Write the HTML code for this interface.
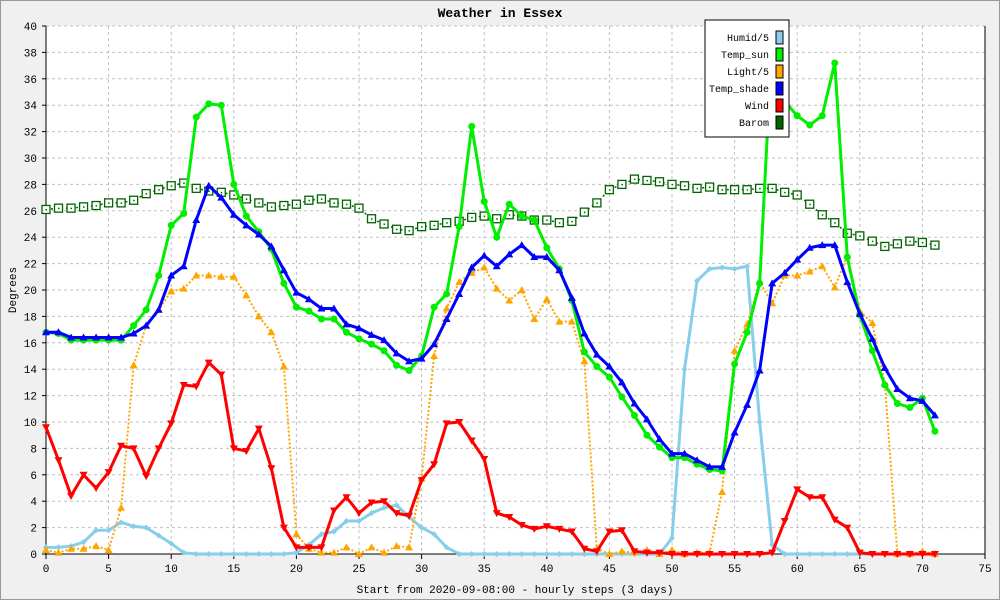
<!DOCTYPE html>
<html><head><meta charset="utf-8"><style>
body{margin:0;background:#fff}
svg{display:block;font-family:"Liberation Mono",monospace}
</style></head><body>
<svg id="chart" width="1000" height="600" xmlns="http://www.w3.org/2000/svg">
<rect x="0.5" y="0.5" width="999" height="599" fill="#f0f0f0" stroke="#999"/>
<rect x="46" y="26" width="939" height="528" fill="#fff"/>
<text x="500" y="17" text-anchor="middle" font-size="13" font-weight="bold">Weather in Essex</text>
<g id="grid"></g>
<g id="axes"></g>
<g id="series"></g>
<text x="16" y="290" transform="rotate(-90 16 290)" text-anchor="middle" font-size="11">Degrees</text>
<text x="515" y="593" text-anchor="middle" font-size="11">Start from 2020-09-08:00 - hourly steps (3 days)</text>
<g id="legend"></g>
</svg>
<script>
const hours = Array.from({length:72},(_,i)=>i);
const humid = [0.5,0.5,0.6,0.9,1.8,1.8,2.4,2.1,2.0,1.4,0.8,0.1,0,0,0,0,0,0,0,0,0.1,0.7,1.5,1.7,2.5,2.5,3.1,3.5,3.7,2.8,2.0,1.5,0.5,0,0,0,0,0,0,0,0,0,0,0,0,0,0,0,0,0,1.2,14,20.7,21.6,21.7,21.6,21.8,10,0.7,0,0,0,0,0,0,0,0,0,0,0,0,0];
const tempSun = [16.8,16.7,16.2,16.2,16.2,16.2,16.2,17.3,18.5,21.1,24.9,25.8,33.1,34.1,34,28,25.6,24.4,23.1,20.5,18.7,18.4,17.8,17.8,16.8,16.3,15.9,15.4,14.3,13.9,15.0,18.7,19.7,24.8,32.4,26.7,24,26.5,25.6,25.3,23.2,21.6,19.2,15.3,14.2,13.4,11.9,10.5,9.0,8.1,7.3,7.3,6.8,6.4,6.3,14.4,16.8,20.5,39,34.3,33.2,32.5,33.2,37.2,22.5,18.1,15.4,12.8,11.4,11.1,11.8,9.3];
const light = [0.3,0.1,0.4,0.4,0.6,0.3,3.5,14.3,17.3,18.5,19.9,20.1,21.1,21.1,21,21,19.6,18,16.8,14.2,1.5,0.4,0.1,0.1,0.5,0,0.5,0.1,0.6,0.5,5.7,15,18.6,20.6,21.3,21.7,20.1,19.2,20,17.8,19.3,17.6,17.6,14.6,0.4,0,0.2,0.1,0.3,0,0.3,0,0.1,0.1,4.7,15.4,17.4,20.6,19,21.1,21.1,21.4,21.8,20.2,22.6,18.4,17.5,12.9,0,0,0.2,0];
const tempShade = [16.8,16.8,16.4,16.4,16.4,16.4,16.4,16.7,17.3,18.5,21.1,21.8,25.3,27.9,27,25.7,24.9,24.2,23.3,21.5,19.8,19.3,18.6,18.6,17.4,17.1,16.6,16.2,15.2,14.6,14.8,15.9,17.8,19.7,21.7,22.6,21.8,22.7,23.4,22.5,22.5,21.5,19.4,16.7,15.1,14.2,13,11.4,10.2,8.7,7.6,7.6,7.1,6.6,6.6,9.2,11.3,13.9,20.5,21.3,22.3,23.2,23.4,23.4,20.6,18.2,16.3,14.1,12.5,11.8,11.6,10.5];
const wind = [9.6,7.1,4.4,6,5,6.2,8.2,8,5.9,8,9.9,12.8,12.7,14.5,13.6,8,7.8,9.5,6.5,2,0.5,0.5,0.5,3.3,4.3,3.1,3.9,4,3.1,2.9,5.6,6.8,9.9,10,8.6,7.2,3.1,2.8,2.2,1.9,2.1,1.9,1.7,0.4,0.2,1.7,1.8,0.2,0.1,0.1,0,0,0,0,0,0,0,0,0.1,2.5,4.9,4.3,4.3,2.6,2,0.1,0,0,0,0,0,0];
const barom = [26.1,26.2,26.2,26.3,26.4,26.6,26.6,26.8,27.3,27.6,27.9,28.1,27.7,27.5,27.4,27.2,26.9,26.6,26.3,26.4,26.5,26.8,26.9,26.6,26.5,26.2,25.4,25,24.6,24.5,24.8,24.9,25.1,25.2,25.5,25.6,25.4,25.7,25.6,25.3,25.3,25.1,25.2,25.9,26.6,27.6,28,28.4,28.3,28.2,28,27.9,27.7,27.8,27.6,27.6,27.6,27.7,27.7,27.4,27.2,26.5,25.7,25.1,24.3,24.1,23.7,23.3,23.5,23.7,23.6,23.4];
const yTicks = [0,2,4,6,8,10,12,14,16,18,20,22,24,26,28,30,32,34,36,38,40];
const xTicks = [0,5,10,15,20,25,30,35,40,45,50,55,60,65,70,75];

const NS="http://www.w3.org/2000/svg";
const X0=46,X1=985,Y0=554,Y1=26;
const xs=v=>X0+(X1-X0)*v/75;
const ys=v=>Y0-(Y0-Y1)*Math.min(v,40)/40;
function mk(tag,attrs,parent){const e=document.createElementNS(NS,tag);for(const k in attrs)e.setAttribute(k,attrs[k]);parent.appendChild(e);return e;}
const grid=document.getElementById('grid'),axes=document.getElementById('axes'),ser=document.getElementById('series'),leg=document.getElementById('legend');
yTicks.forEach(t=>{
  const y=ys(t);
  if(t>0){const g=mk('line',{x1:X0,x2:X1,y1:y,y2:y,stroke:'#c0c0c0','stroke-dasharray':'3,3'},grid);
  
  }
  const tk=mk('line',{x1:X0-4,x2:X0,y1:y,y2:y,stroke:'#000'},axes);
  
  
  const l=mk('text',{x:X0-9,y:y+4,'text-anchor':'end','font-size':'11'},axes);l.textContent=t;
  
  
});
xTicks.forEach(t=>{
  const x=xs(t);
  if(t>0&&t<75){const g=mk('line',{x1:x,x2:x,y1:Y1,y2:Y0,stroke:'#c0c0c0','stroke-dasharray':'3,3'},grid);
  
  }
  const tk=mk('line',{x1:x,x2:x,y1:Y0,y2:Y0+5,stroke:'#000'},axes);
  
  
  const l=mk('text',{x:x,y:Y0+18,'text-anchor':'middle','font-size':'11'},axes);l.textContent=t;
  
  
});
const ax=mk('path',{d:`M${X0},${Y1}V${Y0}H${X1}V${Y1}`,fill:'none',stroke:'#000'},axes);



function marker(type,x,y,color,g){
  let e;
  if(type==='circle')e=mk('circle',{cx:x,cy:y,r:3.5,fill:color},g);
  else if(type==='up')e=mk('polygon',{points:`${x},${y-4} ${x-4},${y+3} ${x+4},${y+3}`,fill:color},g);
  else if(type==='down')e=mk('polygon',{points:`${x},${y+4} ${x-4},${y-3} ${x+4},${y-3}`,fill:color},g);
  else if(type==='diamond')e=mk('polygon',{points:`${x},${y-3} ${x-3},${y} ${x},${y+3} ${x+3},${y}`,fill:color},g);
  else if(type==='box'){e=mk('rect',{x:x-4,y:y-4,width:8,height:8,fill:'#fff',stroke:color,'stroke-width':1.3},g);mk('rect',{x:x-0.5,y:y-0.5,width:1.5,height:1.5,fill:color},g);}
  return e;
}
function series(name,data,color,width,dash,mtype){
  const g=mk('g',{},ser);
  
  
  const p=mk('polyline',{points:data.map((v,i)=>xs(hours[i])+','+ys(v)).join(' '),fill:'none',stroke:color,'stroke-width':width,'stroke-dasharray':dash||'none'},g);
  
  
  data.forEach((v,i)=>{const m=marker(mtype,xs(hours[i]),ys(v),color,g);
    
    });
}
series('barom',barom,'#006400',1.5,'2,3','box');
series('humid',humid,'#87ceeb',3,null,'diamond');
series('light',light,'#ffa500',2,'2,2','up');
series('wind',wind,'#ff0000',3,null,'down');
series('temp-sun',tempSun,'#00ee00',3,null,'circle');
series('temp-shade',tempShade,'#0000ff',3,null,'up');

const lb=mk('rect',{x:705,y:20,width:84,height:117,fill:'#fff',stroke:'#000'},leg);


const legNames=['Humid/5','Temp_sun','Light/5','Temp_shade','Wind','Barom'];
const legColors=['#87ceeb','#00ee00','#ffa500','#0000ff','#ff0000','#006400'];
legNames.forEach((n,i)=>{
  const y=37+i*17;
  const t=mk('text',{x:769,y:y+4,'text-anchor':'end','font-size':'10'},leg);t.textContent=n;
  
  
  const s=mk('rect',{x:776,y:y-6,width:7,height:13,fill:legColors[i],stroke:'#000'},leg);
  
  
});
</script>
</body></html>
